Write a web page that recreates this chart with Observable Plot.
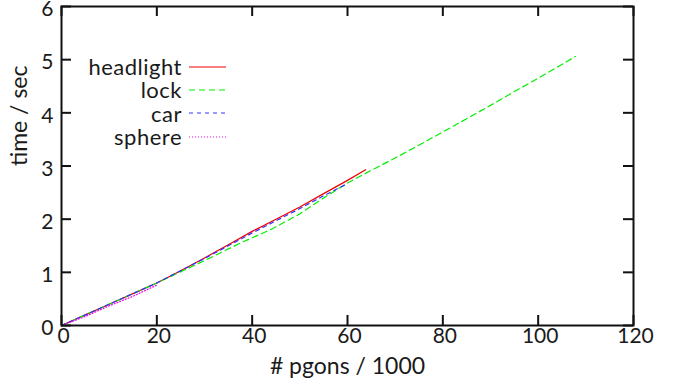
<!DOCTYPE html>
<html>
<head>
<meta charset="utf-8">
<script src="https://cdn.jsdelivr.net/npm/d3@7"></script>
<script src="https://cdn.jsdelivr.net/npm/@observablehq/plot@0.6"></script>
<style>
  html, body { margin: 0; padding: 0; background: #fff; }
  #wrap { position: relative; width: 678px; height: 386px; font-family: Lato, "Open Sans", sans-serif; }
  #legend { position: absolute; left: 40px; top: 55px; font-size: 22px; letter-spacing: 0.5px; line-height: 23.4px; color: #1a1a1a; }
  #legend .row { display: flex; align-items: center; justify-content: flex-end; height: 23.4px; }
  #legend .row span { text-align: right; }
  #legend svg { margin-left: 7px; }
</style>
</head>
<body>
<div id="wrap"></div>
<script>
// ---- data ----
const xTicks = [0, 20, 40, 60, 80, 100, 120];
const yTicks = [0, 1, 2, 3, 4, 5, 6];

const headlightX = [0, 5, 10, 15, 20, 25, 30, 35, 40, 45, 50, 55, 60, 63.8];
const headlightY = [0, 0.2, 0.4, 0.6, 0.8, 1.03, 1.27, 1.52, 1.77, 2.0, 2.23, 2.48, 2.73, 2.93];

const lockX = [0, 10, 20, 30, 37.5, 43.8, 50, 55, 60, 65, 70, 73.5, 80, 85, 90, 95, 100, 107.8];
const lockY = [0, 0.4, 0.8, 1.22, 1.55, 1.8, 2.1, 2.4, 2.68, 2.92, 3.15, 3.32, 3.64, 3.89, 4.14, 4.4, 4.65, 5.06];

const carX = [0, 5, 10, 15, 20, 25, 30, 35, 40, 45, 50, 55, 60];
const carY = [0, 0.2, 0.4, 0.6, 0.8, 1.03, 1.26, 1.5, 1.74, 1.97, 2.2, 2.44, 2.67];

const sphereX = [0, 5, 10, 15, 20];
const sphereY = [0, 0.17, 0.37, 0.55, 0.76];

const seriesNames = ["headlight", "lock", "car", "sphere"];
const seriesColors = ["#ee0000", "#00ee00", "#3333ff", "#ee00ee"];
const seriesDash = [null, "6,4", "4,4", "1,2"];

const xLabel = "# pgons / 1000";
const yLabel = "time / sec";

// ---- build ----
const zip = (xs, ys) => xs.map((x, i) => ({x, y: ys[i]}));
const series = [zip(headlightX, headlightY), zip(lockX, lockY), zip(carX, carY), zip(sphereX, sphereY)];

const W = 678, H = 386, mL = 61, mR = 45, mT = 6, mB = 61;
const plotW = W - mL - mR, plotH = H - mT - mB;
const tickLen = 10;

const lineMarks = series.map((data, i) =>
  Plot.line(data, {x: "x", y: "y", stroke: seriesColors[i], strokeWidth: 1.2, strokeDasharray: seriesDash[i]})
);

const chart = Plot.plot({
  width: W, height: H,
  marginLeft: mL, marginRight: mR, marginTop: mT, marginBottom: mB,
  style: {fontFamily: "Lato, 'Open Sans', sans-serif", fontSize: "21px", color: "#1a1a1a", background: "#fff", overflow: "visible"},
  x: {domain: [0, 120], label: null},
  y: {domain: [0, 6], label: null},
  marks: [
    Plot.axisX(xTicks, {tickSize: 0, tickPadding: 3, dx: 2, label: null, fontSize: 21, tickFormat: d => String(d)}),
    Plot.axisY(yTicks, {tickSize: 0, tickPadding: 8, dy: 3, label: null, fontSize: 21, tickFormat: d => String(d)}),
    Plot.tickX(xTicks, {x: d => d, insetTop: plotH - tickLen, stroke: "#111", strokeWidth: 2}),
    Plot.tickX(xTicks, {x: d => d, insetBottom: plotH - tickLen, stroke: "#111", strokeWidth: 2}),
    Plot.tickY(yTicks, {y: d => d, insetRight: plotW - tickLen, stroke: "#111", strokeWidth: 2}),
    Plot.tickY(yTicks, {y: d => d, insetLeft: plotW - tickLen, stroke: "#111", strokeWidth: 2}),
    ...lineMarks,
    Plot.frame({stroke: "#111", strokeWidth: 2}),
    Plot.text([xLabel], {text: d => d, frameAnchor: "bottom", dy: 48, fontSize: 23, fill: "#1a1a1a"}),
    Plot.text([yLabel], {text: d => d, frameAnchor: "left", dx: -42, rotate: -90, fontSize: 23, fill: "#1a1a1a"})
  ]
});

const wrap = document.getElementById("wrap");
wrap.appendChild(chart);

// legend (gnuplot-style key inside the plot)
const legend = document.createElement("div");
legend.id = "legend";
seriesNames.forEach((name, i) => {
  const row = document.createElement("div");
  row.className = "row";
  const label = document.createElement("span");
  label.textContent = name;
  row.appendChild(label);
  const sw = d3.create("svg").attr("width", 37).attr("height", 10);
  sw.append("line").attr("x1", 0).attr("x2", 37).attr("y1", 5).attr("y2", 5)
    .attr("stroke", seriesColors[i]).attr("stroke-width", 1.2)
    .attr("stroke-dasharray", seriesDash[i]);
  row.appendChild(sw.node());
  legend.appendChild(row);
});
legend.style.width = "186px";
wrap.appendChild(legend);
</script>
</body>
</html>
